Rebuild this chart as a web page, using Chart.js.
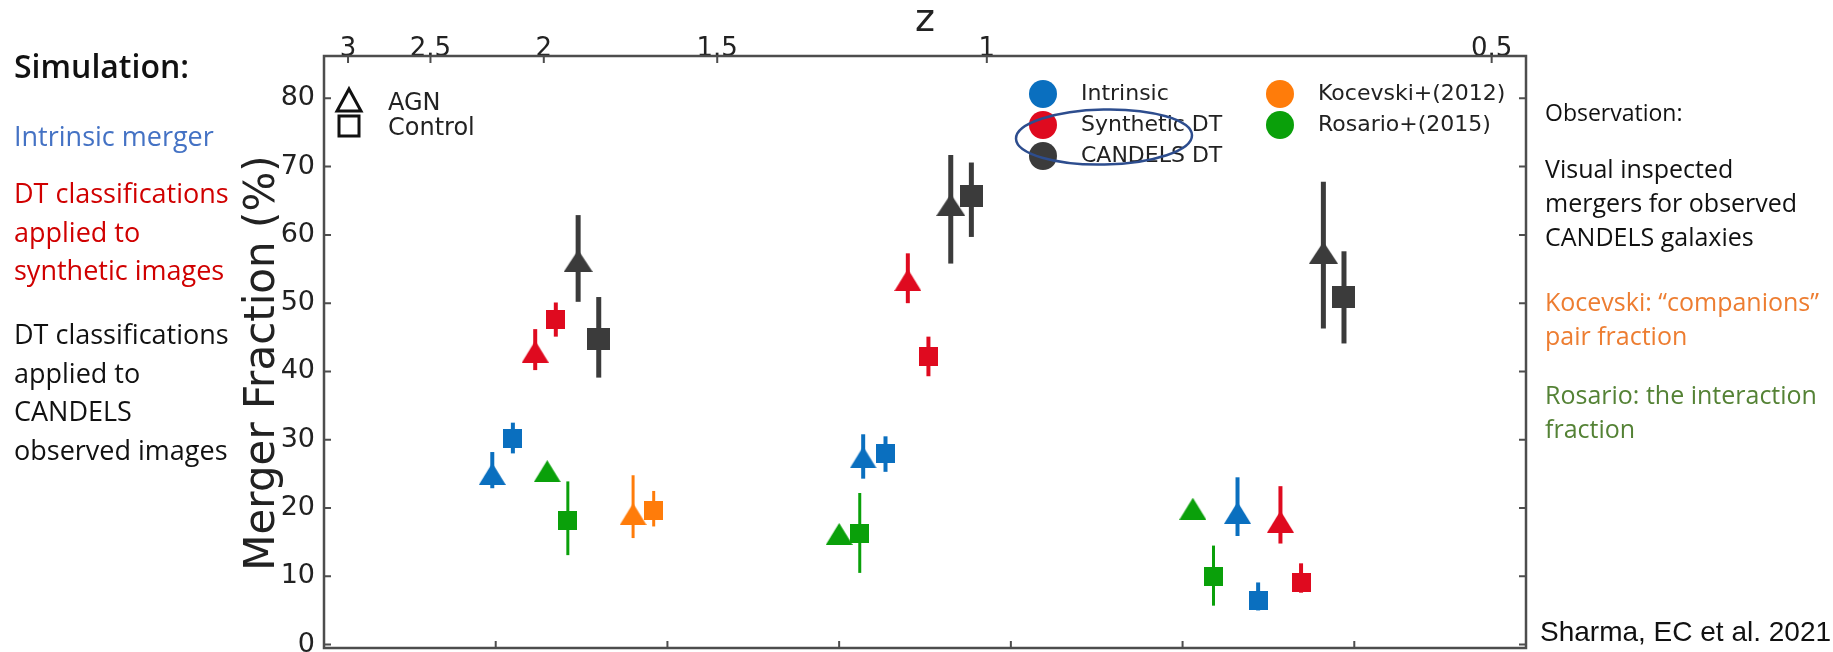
<!DOCTYPE html>
<html>
<head>
<meta charset="utf-8">
<title>Merger fraction vs redshift</title>
<script src="https://cdn.jsdelivr.net/npm/chart.js@4.4.1/dist/chart.umd.min.js"></script>
<style>
  html, body { margin: 0; padding: 0; background: #fff; overflow: hidden; }
  .page { position: relative; width: 1833px; height: 652px; overflow: hidden; font-family: "Open Sans", sans-serif; }
  #chart { position: absolute; left: 0; top: 0; }
  .note { position: absolute; margin: 0; white-space: nowrap; }
  .left { left: 14px; font-size: 27px; line-height: 38.5px; }
  .right { left: 1545px; font-size: 25px; line-height: 34px; }
  .cite { left: 1540px; top: 616px; font-family: "Liberation Sans", Arial, sans-serif; font-size: 28px; line-height: 32px; color: #111; }
</style>
</head>
<body>
<div class="page">
  <canvas id="chart" width="1833" height="680"></canvas>

  <p class="note left" style="top:47px;color:#111;font-size:32px;font-weight:600">Simulation:</p>
  <p class="note left" style="top:117px;color:#4472c4">Intrinsic merger</p>
  <p class="note left" style="top:174px;color:#d00000">DT classifications<br>applied to<br>synthetic images</p>
  <p class="note left" style="top:315px;color:#111">DT classifications<br>applied to<br>CANDELS<br>observed images</p>

  <p class="note right" style="top:95px;color:#111;font-size:23px">Observation:</p>
  <p class="note right" style="top:151px;color:#111">Visual inspected<br>mergers for observed<br>CANDELS galaxies</p>
  <p class="note right" style="top:284px;color:#ed7d31">Kocevski: “companions”<br>pair fraction</p>
  <p class="note right" style="top:377px;color:#548235">Rosario: the interaction<br>fraction</p>
  <p class="note cite">Sharma, EC et al. 2021</p>
</div>

<script>
// lower axis is cosmic time in Gyr, the upper one shows redshift at those times
const timeTicks = [2, 3, 4, 5, 6, 7, 8, 9];
const fracTicks = [0, 10, 20, 30, 40, 50, 60, 70, 80];
const zTickLabels = ['3', '2.5', '2', '1.5', '1', '0.5'];
const zTickTimes = [2.14, 2.62, 3.28, 4.29, 5.86, 8.80];

// rows are [time, fraction, error low, error high]
const intrinsicAgn = [[2.98, 25.0, 22.9, 28.2], [5.14, 27.4, 24.3, 30.8], [7.32, 19.3, 15.9, 24.5]];
const intrinsicCtrl = [[3.10, 30.2, 28.0, 32.5], [5.27, 28.0, 25.3, 30.5], [7.44, 6.5, 5.0, 9.1]];
const syntheticAgn = [[3.23, 42.9, 40.2, 46.2], [5.40, 53.4, 50.0, 57.3], [7.57, 18.0, 14.8, 23.2]];
const syntheticCtrl = [[3.35, 47.6, 45.1, 50.1], [5.52, 42.2, 39.3, 45.1], [7.69, 9.1, 7.6, 11.9]];
const candelsAgn = [[3.48, 56.2, 50.2, 62.9], [5.65, 64.4, 55.8, 71.7], [7.82, 57.4, 46.3, 67.8]];
const candelsCtrl = [[3.60, 44.8, 39.1, 50.9], [5.77, 65.7, 59.7, 70.6], [7.94, 50.9, 44.1, 57.6]];
const kocevskiAgn = [[3.80, 19.1, 15.6, 24.8]];
const kocevskiCtrl = [[3.92, 19.6, 17.3, 22.5]];
const rosarioAgn = [[3.30, 25.4, null, null], [5.00, 16.2, null, null], [7.06, 19.9, null, null]];
const rosarioCtrl = [[3.42, 18.1, 13.1, 23.9], [5.12, 16.2, 10.5, 22.2], [7.18, 10.0, 5.7, 14.5]];

const INK = '#222';
const FONT = 'DejaVu Sans';

// =========================
// ======= MARKERS =========
// =========================

function makeMarker(shape, color, w, h) {
  const c = document.createElement('canvas');
  c.width = w;
  c.height = h;
  const g = c.getContext('2d');
  g.fillStyle = color;
  if (shape === 'tri') {
    g.beginPath();
    g.moveTo(w / 2, 0);
    g.lineTo(w, h);
    g.lineTo(0, h);
    g.closePath();
    g.fill();
  } else {
    g.fillRect(0, 0, w, h);
  }
  return c;
}

const groups = [
  { label: 'Intrinsic', color: '#0a6fbf', agn: intrinsicAgn, ctrl: intrinsicCtrl, err: 4, tri: [27, 22], sq: [19, 19] },
  { label: 'Synthetic DT', color: '#df0a1f', agn: syntheticAgn, ctrl: syntheticCtrl, err: 4, tri: [27, 22], sq: [19, 19] },
  { label: 'CANDELS DT', color: '#3b3b3b', agn: candelsAgn, ctrl: candelsCtrl, err: 5, tri: [29, 22], sq: [23, 22] },
  { label: 'Kocevski+(2012)', color: '#ff7c0a', agn: kocevskiAgn, ctrl: kocevskiCtrl, err: 3, tri: [27, 22], sq: [19, 19] },
  { label: 'Rosario+(2015)', color: '#0aa00a', agn: rosarioAgn, ctrl: rosarioCtrl, err: 3, tri: [27, 22], sq: [19, 19] }
];

const datasets = [];
groups.forEach(function(g) {
  [['agn', 'tri'], ['ctrl', 'sq']].forEach(function(kind) {
    const rows = g[kind[0]];
    const size = g[kind[1]];
    datasets.push({
      label: g.label + ' ' + kind[0],
      data: rows.map(r => ({ x: r[0], y: r[1] })),
      errLow: rows.map(r => r[2]),
      errHigh: rows.map(r => r[3]),
      errColor: g.color,
      errWidth: g.err,
      pointStyle: makeMarker(kind[1], g.color, size[0], size[1]),
      showLine: false
    });
  });
});

// =========================
// ======= PLUGINS =========
// =========================

const errorBars = {
  id: 'errorBars',
  beforeDatasetsDraw(chart) {
    const ctx = chart.ctx;
    const xs = chart.scales.x;
    const ys = chart.scales.y;
    chart.data.datasets.forEach(function(ds) {
      ds.data.forEach(function(p, i) {
        if (ds.errLow[i] == null) return;
        const px = xs.getPixelForValue(p.x);
        ctx.save();
        ctx.strokeStyle = ds.errColor;
        ctx.lineWidth = ds.errWidth;
        ctx.beginPath();
        ctx.moveTo(px, ys.getPixelForValue(ds.errLow[i]));
        ctx.lineTo(px, ys.getPixelForValue(ds.errHigh[i]));
        ctx.stroke();
        ctx.restore();
      });
    });
  }
};

// matplotlib style frame with inward ticks on all four sides
const frame = {
  id: 'frame',
  afterDatasetsDraw(chart) {
    const ctx = chart.ctx;
    const a = chart.chartArea;
    const xs = chart.scales.x;
    const x2 = chart.scales.x2;
    const ys = chart.scales.y;
    const tl = 7;
    ctx.save();
    ctx.strokeStyle = '#4d4d4d';
    ctx.lineWidth = 2.5;
    ctx.strokeRect(a.left, a.top, a.right - a.left, a.bottom - a.top);
    ctx.lineWidth = 2;
    ctx.beginPath();
    fracTicks.forEach(function(v) {
      const py = ys.getPixelForValue(v);
      ctx.moveTo(a.left, py); ctx.lineTo(a.left + tl, py);
      ctx.moveTo(a.right, py); ctx.lineTo(a.right - tl, py);
    });
    zTickTimes.forEach(function(v) {
      const px = x2.getPixelForValue(v);
      ctx.moveTo(px, a.top); ctx.lineTo(px, a.top + tl);
    });
    timeTicks.forEach(function(v) {
      const px = xs.getPixelForValue(v);
      ctx.moveTo(px, a.bottom); ctx.lineTo(px, a.bottom - tl);
    });
    ctx.stroke();

    // y axis title, drawn here so it can sit where the original puts it
    ctx.fillStyle = INK;
    ctx.font = '42px "' + FONT + '"';
    ctx.textAlign = 'center';
    ctx.textBaseline = 'middle';
    ctx.translate(a.left - 61, a.top + 307);
    ctx.rotate(-Math.PI / 2);
    ctx.fillText('Merger Fraction (%)', 0, 0);
    ctx.restore();
  }
};

const legends = {
  id: 'legends',
  afterDraw(chart) {
    const ctx = chart.ctx;
    const a = chart.chartArea;
    ctx.save();
    ctx.font = '24px "' + FONT + '"';
    ctx.textBaseline = 'middle';
    ctx.fillStyle = INK;

    // marker shape key
    const kx = a.left + 25;
    ctx.strokeStyle = '#111';
    ctx.lineWidth = 3;
    ctx.lineJoin = 'miter';
    ctx.beginPath();
    ctx.moveTo(kx, a.top + 33);
    ctx.lineTo(kx + 12, a.top + 55);
    ctx.lineTo(kx - 12, a.top + 55);
    ctx.closePath();
    ctx.stroke();
    ctx.strokeRect(kx - 10, a.top + 60, 20, 20);
    ctx.fillText('AGN', kx + 39, a.top + 48);
    ctx.fillText('Control', kx + 39, a.top + 73);

    // colour key, two columns
    ctx.font = '22px "' + FONT + '"';
    const cols = [
      { x: a.left + 719, items: [groups[0], groups[1], groups[2]] },
      { x: a.left + 956, items: [groups[3], groups[4]] }
    ];
    cols.forEach(function(col) {
      col.items.forEach(function(g, i) {
        const cy = a.top + 38 + i * 31;
        ctx.fillStyle = g.color;
        ctx.beginPath();
        ctx.arc(col.x, cy, 14, 0, Math.PI * 2);
        ctx.fill();
        ctx.fillStyle = INK;
        ctx.fillText(g.label, col.x + 38, cy);
      });
    });

    // hand drawn highlight round the two DT entries
    ctx.strokeStyle = '#2d4d8e';
    ctx.lineWidth = 2.5;
    ctx.beginPath();
    ctx.ellipse(a.left + 780, a.top + 81, 88, 27.5, -0.02, 0, Math.PI * 2);
    ctx.stroke();
    ctx.restore();
  }
};

// =========================
// ======= CHART ===========
// =========================

const ctx = document.getElementById('chart').getContext('2d');

const chart = new Chart(ctx, {
  type: 'scatter',
  data: { datasets: datasets },
  plugins: [errorBars, frame, legends],
  options: {
    responsive: false,
    animation: false,
    events: [],
    layout: { padding: { left: 239, right: 307, top: 0, bottom: 32 } },
    plugins: { legend: { display: false }, tooltip: { enabled: false } },
    scales: {
      x: {
        type: 'linear',
        position: 'bottom',
        min: 2,
        max: 9,
        afterBuildTicks: s => { s.ticks = timeTicks.map(v => ({ value: v })); },
        ticks: { display: false },
        grid: { display: false, drawTicks: false },
        border: { display: false },
        afterFit: s => { s.height = 0; }
      },
      x2: {
        type: 'linear',
        position: 'top',
        min: 2,
        max: 9,
        afterBuildTicks: s => { s.ticks = zTickTimes.map(v => ({ value: v })); },
        ticks: {
          callback: (v, i) => zTickLabels[i],
          autoSkip: false,
          maxRotation: 0,
          padding: -9,
          color: INK,
          font: { family: FONT, size: 26 }
        },
        grid: { display: false, drawTicks: false },
        border: { display: false },
        title: { display: true, text: 'z', color: INK, font: { family: FONT, size: 38 }, padding: { top: -2, bottom: 0 } },
        afterFit: s => { s.height = 56; }
      },
      y: {
        min: -0.5,
        max: 86.2,
        afterBuildTicks: s => { s.ticks = fracTicks.map(v => ({ value: v })); },
        ticks: { padding: 9, color: INK, font: { family: FONT, size: 27 } },
        grid: { display: false, drawTicks: false },
        border: { display: false },
        afterFit: s => { s.width = 85; }
      }
    }
  }
});
</script>
</body>
</html>
